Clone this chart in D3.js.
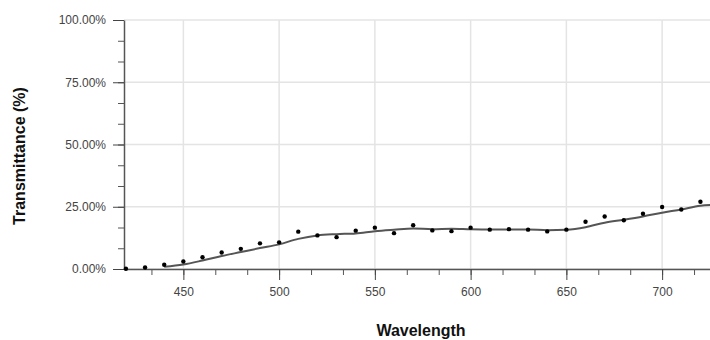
<!DOCTYPE html>
<html>
<head>
<meta charset="utf-8">
<script src="https://cdn.jsdelivr.net/npm/d3@7"></script>
<style>
  body { margin: 0; background: #fff; }
  svg { display: block; font-family: "Liberation Sans", Arial, sans-serif; }
</style>
</head>
<body>
<div id="chart"></div>
<script>
// measured points (dots)
const pointWl = [420, 430, 440, 450, 460, 470, 480, 490, 500, 510, 520, 530, 540, 550, 560, 570,
  580, 590, 600, 610, 620, 630, 640, 650, 660, 670, 680, 690, 700, 710, 720];
const pointT = [0.1, 0.6, 1.7, 3.0, 4.7, 6.6, 8.1, 10.3, 10.7, 15.0, 13.5, 12.8, 15.4, 16.6, 14.4, 17.6,
  15.5, 15.2, 16.6, 15.8, 16.0, 15.8, 15.1, 15.8, 19.0, 21.1, 19.6, 22.2, 24.9, 23.9, 27.0];

// fitted curve
const lineWl = [440, 450, 460, 470, 480, 490, 500, 510, 520, 530, 540, 550, 560, 570, 580, 590,
  600, 610, 620, 630, 640, 650, 660, 670, 680, 690, 700, 710, 720, 730];
const lineT = [0.9, 1.8, 3.4, 5.2, 6.8, 8.4, 9.9, 12.1, 13.5, 14.0, 14.3, 15.2, 15.8, 16.3, 16.0, 16.2,
  16.0, 15.9, 15.9, 15.9, 15.6, 15.8, 16.8, 18.6, 19.8, 21.1, 22.6, 23.9, 25.4, 25.8];

const xTicks = [450, 500, 550, 600, 650, 700];
const yTicks = [0, 0.25, 0.5, 0.75, 1];

const width = 710, height = 340;
const margin = { top: 20, right: 0, bottom: 71, left: 124 };

const svg = d3.select("#chart").append("svg")
  .attr("width", width)
  .attr("height", height);

const x = d3.scaleLinear().domain([419, 725]).range([margin.left, width - margin.right]);
const y = d3.scaleLinear().domain([0, 1]).range([height - margin.bottom, margin.top]);

const xMinor = d3.range(-1, 17).map((k) => 450 + (k * 50) / 3).filter((v) => v > 419 && v < 725);
const yMinor = d3.range(0, 13).map((k) => k / 12);

// grid
svg.append("g")
  .selectAll("line")
  .data(xTicks)
  .join("line")
  .attr("x1", (d) => x(d)).attr("x2", (d) => x(d))
  .attr("y1", y(1)).attr("y2", y(0))
  .attr("stroke", "#e4e4e4").attr("stroke-width", 1.5);

svg.append("g")
  .selectAll("line")
  .data(yTicks)
  .join("line")
  .attr("x1", x.range()[0]).attr("x2", x.range()[1])
  .attr("y1", (d) => y(d)).attr("y2", (d) => y(d))
  .attr("stroke", "#e4e4e4").attr("stroke-width", 1.5);

// minor ticks
svg.append("g")
  .attr("transform", `translate(0,${y(0)})`)
  .call(d3.axisBottom(x).tickValues(xMinor).tickSize(6).tickFormat(""))
  .call((g) => g.select(".domain").remove())
  .call((g) => g.selectAll("line").attr("stroke", "#555"));

svg.append("g")
  .attr("transform", `translate(${x(419)},0)`)
  .call(d3.axisLeft(y).tickValues(yMinor).tickSize(6).tickFormat(""))
  .call((g) => g.select(".domain").remove())
  .call((g) => g.selectAll("line").attr("stroke", "#555"));

// major axes
const xAxis = svg.append("g")
  .attr("transform", `translate(0,${y(0)})`)
  .call(d3.axisBottom(x).tickValues(xTicks).tickSize(11).tickSizeOuter(0).tickPadding(7));

const yAxis = svg.append("g")
  .attr("transform", `translate(${x(419)},0)`)
  .call(d3.axisLeft(y).tickValues(yTicks).tickSize(11).tickSizeOuter(0).tickPadding(7)
    .tickFormat(d3.format(".2%")));

[xAxis, yAxis].forEach((g) => {
  g.select(".domain").attr("stroke", "#555").attr("stroke-width", 1.5);
  g.selectAll(".tick line").attr("stroke", "#444");
  g.selectAll(".tick text")
    .attr("fill", "#444")
    .style("font-size", "12px")
    .style("font-family", "Liberation Sans, Arial, sans-serif");
});

// clip
svg.append("clipPath").attr("id", "plot-clip")
  .append("rect")
  .attr("x", margin.left).attr("y", 0)
  .attr("width", width - margin.left).attr("height", height);

const plot = svg.append("g").attr("clip-path", "url(#plot-clip)");

const lineData = lineWl.map((w, i) => [w, lineT[i] / 100]);
plot.append("path")
  .datum(lineData)
  .attr("fill", "none")
  .attr("stroke", "#555")
  .attr("stroke-width", 2)
  .attr("d", d3.line()
    .curve(d3.curveMonotoneX)
    .x((d) => x(d[0]))
    .y((d) => y(d[1])));

const pointData = pointWl.map((w, i) => [w, pointT[i] / 100]);
svg.append("g")
  .selectAll("circle")
  .data(pointData)
  .join("circle")
  .attr("cx", (d) => x(d[0]))
  .attr("cy", (d) => y(d[1]))
  .attr("r", 2.2)
  .attr("fill", "#000");

// axis titles
svg.append("text")
  .attr("x", 421)
  .attr("y", 336)
  .attr("text-anchor", "middle")
  .style("font-size", "16px")
  .style("font-weight", "bold")
  .attr("fill", "#111")
  .text("Wavelength");

svg.append("text")
  .attr("transform", "translate(25,156) rotate(-90)")
  .attr("text-anchor", "middle")
  .style("font-size", "16px")
  .style("font-weight", "bold")
  .attr("fill", "#111")
  .text("Transmittance (%)");
</script>
</body>
</html>
